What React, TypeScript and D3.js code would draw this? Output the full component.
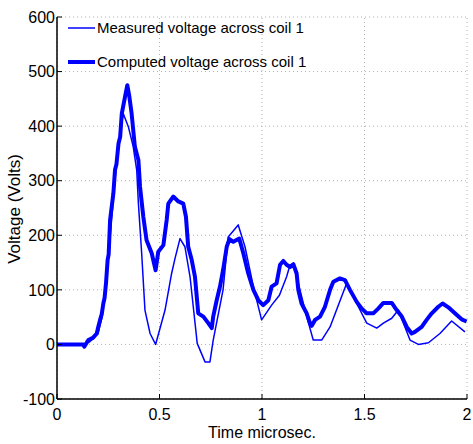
import React from "react";
import * as d3 from "d3";

const measuredT = [0, 0.13, 0.16, 0.2, 0.22, 0.24, 0.26, 0.28, 0.3, 0.323, 0.348, 0.372, 0.389, 0.397, 0.413, 0.429, 0.454, 0.481, 0.527, 0.559, 0.576, 0.6, 0.624, 0.649, 0.684, 0.722, 0.746, 0.762, 0.81, 0.835, 0.884, 0.917, 0.958, 0.998, 1.047, 1.085, 1.12, 1.137, 1.153, 1.177, 1.218, 1.25, 1.291, 1.332, 1.413, 1.462, 1.511, 1.56, 1.592, 1.633, 1.665, 1.722, 1.763, 1.812, 1.868, 1.925, 1.99];
const measuredV = [0, 0, 5, 20, 50, 120, 200, 290, 370, 423, 399, 362, 319, 259, 167, 63, 20, 0, 63, 130, 158, 194, 179, 124, 2, -32, -32, 8, 100, 197, 219, 179, 106, 45, 72, 90, 124, 146, 147, 112, 51, 8, 8, 32, 112, 75, 39, 30, 39, 48, 63, 8, 0, 3, 20, 43, 23];

const computedT = [0, 0.128, 0.133, 0.153, 0.175, 0.194, 0.2, 0.21, 0.218, 0.226, 0.232, 0.239, 0.247, 0.252, 0.259, 0.275, 0.283, 0.29, 0.3, 0.308, 0.316, 0.332, 0.343, 0.353, 0.364, 0.38, 0.397, 0.405, 0.421, 0.437, 0.462, 0.481, 0.494, 0.519, 0.535, 0.543, 0.567, 0.592, 0.616, 0.629, 0.64, 0.657, 0.673, 0.689, 0.714, 0.738, 0.755, 0.762, 0.779, 0.795, 0.81, 0.828, 0.841, 0.86, 0.889, 0.909, 0.933, 0.958, 0.982, 1.006, 1.031, 1.047, 1.071, 1.088, 1.104, 1.12, 1.137, 1.153, 1.169, 1.177, 1.193, 1.218, 1.234, 1.242, 1.259, 1.283, 1.307, 1.332, 1.348, 1.38, 1.405, 1.429, 1.462, 1.486, 1.511, 1.543, 1.568, 1.592, 1.633, 1.657, 1.682, 1.706, 1.73, 1.746, 1.779, 1.803, 1.828, 1.86, 1.881, 1.909, 1.941, 1.974, 1.998];
const computedV = [0, 0, -4, 8, 12, 20, 30, 45, 55, 75, 85, 112, 155, 165, 228, 277, 320, 330, 368, 380, 423, 454, 475, 454, 423, 362, 338, 289, 234, 191, 167, 136, 170, 182, 228, 258, 271, 262, 258, 234, 179, 155, 124, 57, 51, 39, 30, 51, 81, 106, 136, 179, 193, 188, 194, 167, 130, 100, 81, 72, 81, 106, 112, 146, 153, 146, 142, 147, 130, 100, 75, 57, 39, 34, 45, 51, 69, 100, 115, 121, 118, 100, 78, 66, 57, 57, 66, 76, 76, 63, 51, 32, 20, 23, 32, 45, 57, 69, 75, 68, 57, 46, 42];

const xTicks = [0, 0.5, 1, 1.5, 2];
const xTickLabels = ["0", "0.5", "1", "1.5", "2"];
const yTicks = [-100, 0, 100, 200, 300, 400, 500, 600];
const legendLabels = ["Measured voltage across coil 1", "Computed voltage across coil 1"];

export default function App() {
  const W = 473, H = 444;
  const x = d3.scaleLinear().domain([0, 2]).range([57, 467]);
  const y = d3.scaleLinear().domain([-100, 600]).range([399, 17]);
  const line = d3.line<[number, number]>().x(d => x(d[0])).y(d => y(d[1]));
  const meas = measuredT.map((t, i) => [t, measuredV[i]] as [number, number]);
  const comp = computedT.map((t, i) => [t, computedV[i]] as [number, number]);
  const font = "'Liberation Sans', Arial, sans-serif";
  const blue = "#0000ff";
  return (
    <svg width={W} height={H} style={{ position: "absolute", left: 0, top: 0, background: "#fff" }} fontFamily={font}>
      {/* grid */}
      {yTicks.map(v => (
        <line key={"gy" + v} x1={x(0)} x2={x(2)} y1={y(v)} y2={y(v)} stroke="#b0b0b0" strokeWidth={1} strokeDasharray="1,3" />
      ))}
      {xTicks.map(t => (
        <line key={"gx" + t} x1={x(t)} x2={x(t)} y1={y(-100)} y2={y(600)} stroke="#b0b0b0" strokeWidth={1} strokeDasharray="1,3" />
      ))}
      {/* lines */}
      <path d={line(meas) || ""} fill="none" stroke={blue} strokeWidth={1.5} strokeLinejoin="round" />
      <path d={line(comp) || ""} fill="none" stroke={blue} strokeWidth={4} strokeLinejoin="round" />
      {/* axes */}
      <line x1={x(0)} x2={x(0)} y1={y(-100)} y2={y(600)} stroke="#000" strokeWidth={1.5} />
      <line x1={x(0)} x2={x(2)} y1={y(-100)} y2={y(-100)} stroke="#000" strokeWidth={1.5} />
      {yTicks.map(v => (
        <g key={"ty" + v}>
          <line x1={x(0)} x2={x(0) + 5} y1={y(v)} y2={y(v)} stroke="#000" strokeWidth={1} />
          <text x={x(0) - 2} y={y(v)} dy="0.36em" textAnchor="end" fontSize={16} fill="#000">{v}</text>
        </g>
      ))}
      {xTicks.map((t, i) => (
        <g key={"tx" + t}>
          <line x1={x(t)} x2={x(t)} y1={y(-100)} y2={y(-100) - 5} stroke="#000" strokeWidth={1} />
          <text x={x(t)} y={419.5} textAnchor="middle" fontSize={16} fill="#000">{xTickLabels[i]}</text>
        </g>
      ))}
      <text x={x(1)} y={438} textAnchor="middle" fontSize={16} fill="#000">Time microsec.</text>
      <text transform={`translate(19.5,209) rotate(-90)`} textAnchor="middle" fontSize={17} fill="#000">Voltage (Volts)</text>
      {/* legend */}
      {legendLabels.map((lab, i) => (
        <g key={lab}>
          <line x1={68} x2={95} y1={28 + i * 34} y2={28 + i * 34} stroke={blue} strokeWidth={i === 0 ? 1.5 : 4} />
          <text x={97} y={28 + i * 34} dy="0.36em" fontSize={15} fill="#000">{lab}</text>
        </g>
      ))}
    </svg>
  );
}
